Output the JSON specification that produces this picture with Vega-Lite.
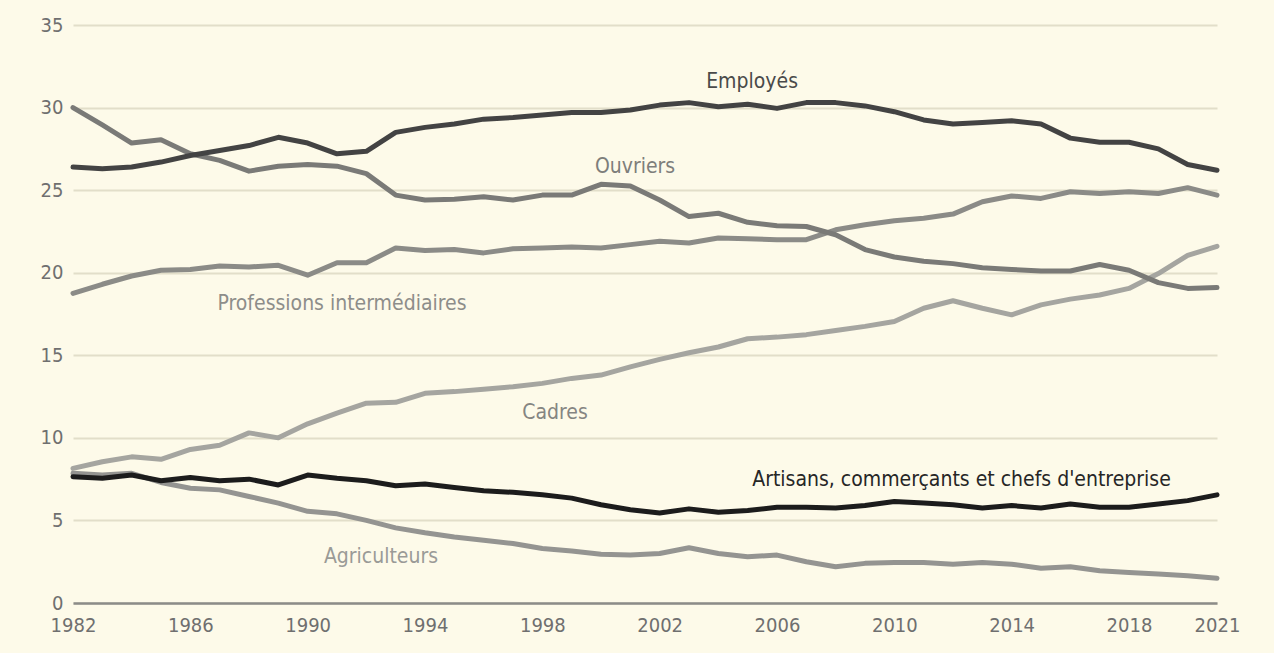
{
  "$schema": "https://vega.github.io/schema/vega-lite/v6.json",
  "width": 1144,
  "height": 578,
  "autosize": {"type": "none"},
  "padding": {"left": 73, "top": 25, "right": 57, "bottom": 50},
  "background": "#fdfae9",
  "config": {
    "view": {"stroke": null},
    "font": "DejaVu Sans Condensed, Open Sans, sans-serif"
  },
  "datasets": {
    "series": [
      {"year": 1982, "Agriculteurs": 7.85, "Cadres": 8.15, "Professions intermédiaires": 18.75, "Ouvriers": 30.0, "Employés": 26.4, "Artisans": 7.65},
      {"year": 1983, "Agriculteurs": 7.75, "Cadres": 8.55, "Professions intermédiaires": 19.3, "Ouvriers": 28.95, "Employés": 26.3, "Artisans": 7.55},
      {"year": 1984, "Agriculteurs": 7.85, "Cadres": 8.85, "Professions intermédiaires": 19.8, "Ouvriers": 27.85, "Employés": 26.4, "Artisans": 7.75},
      {"year": 1985, "Agriculteurs": 7.3, "Cadres": 8.7, "Professions intermédiaires": 20.15, "Ouvriers": 28.05, "Employés": 26.7, "Artisans": 7.4},
      {"year": 1986, "Agriculteurs": 6.95, "Cadres": 9.3, "Professions intermédiaires": 20.2, "Ouvriers": 27.2, "Employés": 27.1, "Artisans": 7.6},
      {"year": 1987, "Agriculteurs": 6.85, "Cadres": 9.55, "Professions intermédiaires": 20.4, "Ouvriers": 26.8, "Employés": 27.4, "Artisans": 7.4},
      {"year": 1988, "Agriculteurs": 6.45, "Cadres": 10.3, "Professions intermédiaires": 20.35, "Ouvriers": 26.15, "Employés": 27.7, "Artisans": 7.5},
      {"year": 1989, "Agriculteurs": 6.05, "Cadres": 10.0, "Professions intermédiaires": 20.45, "Ouvriers": 26.45, "Employés": 28.2, "Artisans": 7.15},
      {"year": 1990, "Agriculteurs": 5.55, "Cadres": 10.85, "Professions intermédiaires": 19.85, "Ouvriers": 26.55, "Employés": 27.85, "Artisans": 7.75},
      {"year": 1991, "Agriculteurs": 5.4, "Cadres": 11.5, "Professions intermédiaires": 20.6, "Ouvriers": 26.45, "Employés": 27.2, "Artisans": 7.55},
      {"year": 1992, "Agriculteurs": 5.0, "Cadres": 12.1, "Professions intermédiaires": 20.6, "Ouvriers": 26.0, "Employés": 27.35, "Artisans": 7.4},
      {"year": 1993, "Agriculteurs": 4.55, "Cadres": 12.15, "Professions intermédiaires": 21.5, "Ouvriers": 24.7, "Employés": 28.5, "Artisans": 7.1},
      {"year": 1994, "Agriculteurs": 4.25, "Cadres": 12.7, "Professions intermédiaires": 21.35, "Ouvriers": 24.4, "Employés": 28.8, "Artisans": 7.2},
      {"year": 1995, "Agriculteurs": 4.0, "Cadres": 12.8, "Professions intermédiaires": 21.4, "Ouvriers": 24.45, "Employés": 29.0, "Artisans": 7.0},
      {"year": 1996, "Agriculteurs": 3.8, "Cadres": 12.95, "Professions intermédiaires": 21.2, "Ouvriers": 24.6, "Employés": 29.3, "Artisans": 6.8},
      {"year": 1997, "Agriculteurs": 3.6, "Cadres": 13.1, "Professions intermédiaires": 21.45, "Ouvriers": 24.4, "Employés": 29.4, "Artisans": 6.7},
      {"year": 1998, "Agriculteurs": 3.3, "Cadres": 13.3, "Professions intermédiaires": 21.5, "Ouvriers": 24.7, "Employés": 29.55, "Artisans": 6.55},
      {"year": 1999, "Agriculteurs": 3.15, "Cadres": 13.6, "Professions intermédiaires": 21.55, "Ouvriers": 24.7, "Employés": 29.7, "Artisans": 6.35},
      {"year": 2000, "Agriculteurs": 2.95, "Cadres": 13.8, "Professions intermédiaires": 21.5, "Ouvriers": 25.35, "Employés": 29.7, "Artisans": 5.95},
      {"year": 2001, "Agriculteurs": 2.9, "Cadres": 14.3, "Professions intermédiaires": 21.7, "Ouvriers": 25.25, "Employés": 29.85, "Artisans": 5.65},
      {"year": 2002, "Agriculteurs": 3.0, "Cadres": 14.75, "Professions intermédiaires": 21.9, "Ouvriers": 24.4, "Employés": 30.15, "Artisans": 5.45},
      {"year": 2003, "Agriculteurs": 3.35, "Cadres": 15.15, "Professions intermédiaires": 21.8, "Ouvriers": 23.4, "Employés": 30.3, "Artisans": 5.7},
      {"year": 2004, "Agriculteurs": 3.0, "Cadres": 15.5, "Professions intermédiaires": 22.1, "Ouvriers": 23.6, "Employés": 30.05, "Artisans": 5.5},
      {"year": 2005, "Agriculteurs": 2.8, "Cadres": 16.0, "Professions intermédiaires": 22.05, "Ouvriers": 23.05, "Employés": 30.2, "Artisans": 5.6},
      {"year": 2006, "Agriculteurs": 2.9, "Cadres": 16.1, "Professions intermédiaires": 22.0, "Ouvriers": 22.85, "Employés": 29.95, "Artisans": 5.8},
      {"year": 2007, "Agriculteurs": 2.5, "Cadres": 16.25, "Professions intermédiaires": 22.0, "Ouvriers": 22.8, "Employés": 30.3, "Artisans": 5.8},
      {"year": 2008, "Agriculteurs": 2.2, "Cadres": 16.5, "Professions intermédiaires": 22.6, "Ouvriers": 22.3, "Employés": 30.3, "Artisans": 5.75},
      {"year": 2009, "Agriculteurs": 2.4, "Cadres": 16.75, "Professions intermédiaires": 22.9, "Ouvriers": 21.4, "Employés": 30.1, "Artisans": 5.9},
      {"year": 2010, "Agriculteurs": 2.45, "Cadres": 17.05, "Professions intermédiaires": 23.15, "Ouvriers": 20.95, "Employés": 29.75, "Artisans": 6.15},
      {"year": 2011, "Agriculteurs": 2.45, "Cadres": 17.85, "Professions intermédiaires": 23.3, "Ouvriers": 20.7, "Employés": 29.25, "Artisans": 6.05},
      {"year": 2012, "Agriculteurs": 2.35, "Cadres": 18.3, "Professions intermédiaires": 23.55, "Ouvriers": 20.55, "Employés": 29.0, "Artisans": 5.95},
      {"year": 2013, "Agriculteurs": 2.45, "Cadres": 17.85, "Professions intermédiaires": 24.3, "Ouvriers": 20.3, "Employés": 29.1, "Artisans": 5.75},
      {"year": 2014, "Agriculteurs": 2.35, "Cadres": 17.45, "Professions intermédiaires": 24.65, "Ouvriers": 20.2, "Employés": 29.2, "Artisans": 5.9},
      {"year": 2015, "Agriculteurs": 2.1, "Cadres": 18.05, "Professions intermédiaires": 24.5, "Ouvriers": 20.1, "Employés": 29.0, "Artisans": 5.75},
      {"year": 2016, "Agriculteurs": 2.2, "Cadres": 18.4, "Professions intermédiaires": 24.9, "Ouvriers": 20.1, "Employés": 28.15, "Artisans": 6.0},
      {"year": 2017, "Agriculteurs": 1.95, "Cadres": 18.65, "Professions intermédiaires": 24.8, "Ouvriers": 20.5, "Employés": 27.9, "Artisans": 5.8},
      {"year": 2018, "Agriculteurs": 1.85, "Cadres": 19.05, "Professions intermédiaires": 24.9, "Ouvriers": 20.15, "Employés": 27.9, "Artisans": 5.8},
      {"year": 2019, "Agriculteurs": 1.75, "Cadres": 19.95, "Professions intermédiaires": 24.8, "Ouvriers": 19.4, "Employés": 27.5, "Artisans": 6.0},
      {"year": 2020, "Agriculteurs": 1.65, "Cadres": 21.05, "Professions intermédiaires": 25.15, "Ouvriers": 19.05, "Employés": 26.55, "Artisans": 6.2},
      {"year": 2021, "Agriculteurs": 1.5, "Cadres": 21.6, "Professions intermédiaires": 24.7, "Ouvriers": 19.1, "Employés": 26.2, "Artisans": 6.55}
    ],
    "labels": [
      {"cat": "Employés", "year": 2005.15, "value": 31.17, "text": "Employés"},
      {"cat": "Ouvriers", "year": 2001.16, "value": 26.03, "text": "Ouvriers"},
      {"cat": "Professions intermédiaires", "year": 1991.17, "value": 17.74, "text": "Professions intermédiaires"},
      {"cat": "Cadres", "year": 1998.43, "value": 11.14, "text": "Cadres"},
      {"cat": "Artisans", "year": 2012.29, "value": 7.08, "text": "Artisans, commerçants et chefs d'entreprise"},
      {"cat": "Agriculteurs", "year": 1992.5, "value": 2.42, "text": "Agriculteurs"}
    ]
  },
  "layer": [
    {
      "data": {"name": "series"},
      "transform": [
        {"fold": ["Agriculteurs", "Cadres", "Professions intermédiaires", "Ouvriers", "Employés", "Artisans"], "as": ["cat", "value"]}
      ],
      "mark": {"type": "line", "strokeWidth": 5, "strokeJoin": "round", "strokeCap": "round"},
      "encoding": {
        "x": {
          "field": "year", "type": "quantitative",
          "scale": {"domain": [1982, 2021], "nice": false, "zero": false},
          "axis": {
            "title": null, "values": [1982, 1986, 1990, 1994, 1998, 2002, 2006, 2010, 2014, 2018, 2021],
            "format": "d", "grid": false, "ticks": false,
            "domain": true, "domainColor": "#8c8c88", "domainWidth": 2.5,
            "labelFontSize": 20, "labelColor": "#6f6f6f", "labelPadding": 12,
            "labelFlush": false, "labelOverlap": false
          }
        },
        "y": {
          "field": "value", "type": "quantitative",
          "scale": {"domain": [0, 35], "nice": false},
          "axis": {
            "title": null, "values": [0, 5, 10, 15, 20, 25, 30, 35],
            "grid": true, "gridColor": "#e2dec9", "gridWidth": 2,
            "ticks": false, "domain": false,
            "labelFontSize": 20, "labelColor": "#6f6f6f", "labelPadding": 10
          }
        },
        "color": {
          "field": "cat", "type": "nominal", "legend": null,
          "scale": {
            "domain": ["Agriculteurs", "Cadres", "Professions intermédiaires", "Ouvriers", "Employés", "Artisans"],
            "range": ["#949491", "#a5a5a0", "#8b8b87", "#7a7a77", "#434343", "#1c1c1c"]
          }
        },
        "order": {"field": "year"}
      }
    },
    {
      "data": {"name": "labels"},
      "mark": {"type": "text", "align": "center", "baseline": "alphabetic", "fontSize": 21},
      "encoding": {
        "x": {"field": "year", "type": "quantitative"},
        "y": {"field": "value", "type": "quantitative"},
        "text": {"field": "text"},
        "color": {
          "field": "cat", "type": "nominal", "legend": null,
          "scale": {
            "domain": ["Agriculteurs", "Cadres", "Professions intermédiaires", "Ouvriers", "Employés", "Artisans"],
            "range": ["#9a9a97", "#858582", "#8d8d8a", "#7e7e7b", "#4a4a4a", "#262626"]
          }
        }
      }
    }
  ],
  "resolve": {"scale": {"color": "independent"}}
}
